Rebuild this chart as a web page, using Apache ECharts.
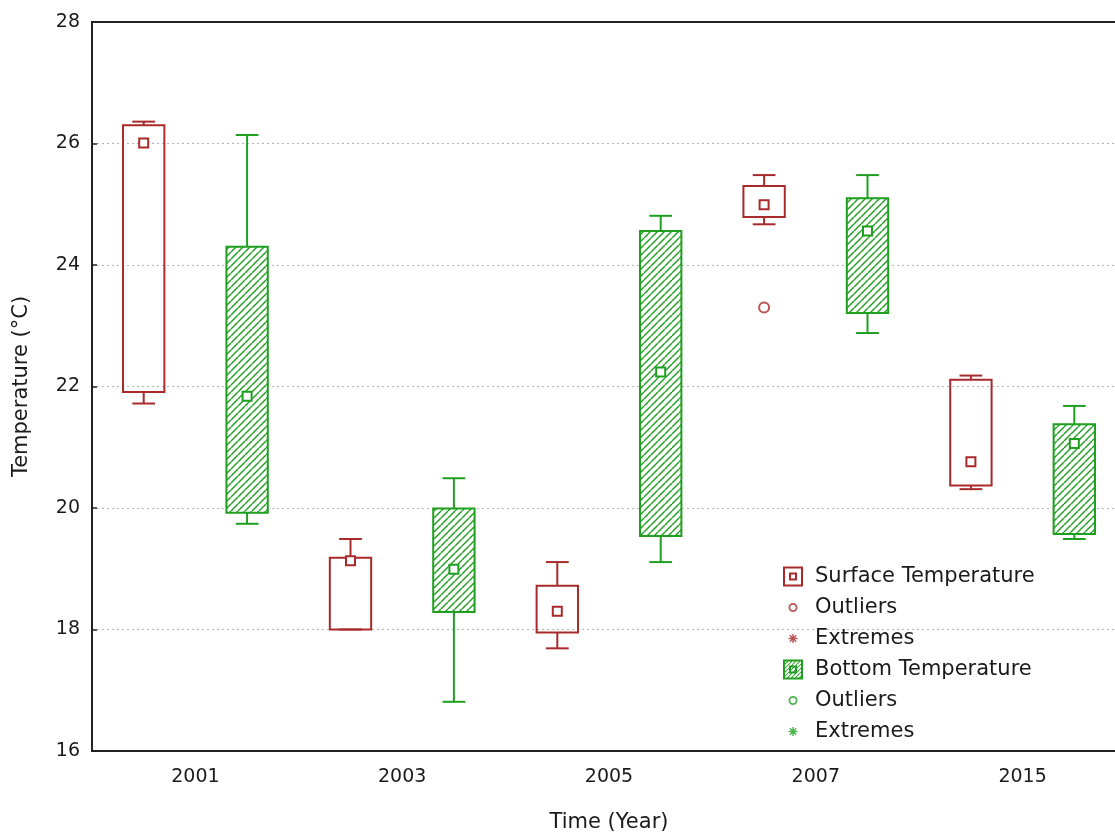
<!DOCTYPE html>
<html>
<head>
<meta charset="utf-8">
<script src="https://cdn.jsdelivr.net/npm/echarts@6/dist/echarts.min.js"></script>
<style>
  html, body { margin: 0; padding: 0; background: #fff; }
  #main { width: 1115px; height: 834px; }
</style>
</head>
<body>
<div id="main"></div>
<script>
// year labels on the visible axis
var years = ['2001', '2003', '2005', '2007', '2015'];
// 10 box slots: surface, bottom, surface, bottom ...
var slots = ['S2001', 'B2001', 'S2003', 'B2003', 'S2005', 'B2005', 'S2007', 'B2007', 'S2015', 'B2015'];
var yTicks = [16, 18, 20, 22, 24, 26, 28];

// [slot, min, Q1, median, Q3, max]
var surfaceStats = [
  [0, 21.72, 21.91, 26.01, 26.30, 26.36],
  [2, 18.00, 18.00, 19.13, 19.18, 19.49],
  [4, 17.69, 17.95, 18.30, 18.72, 19.11],
  [6, 24.67, 24.79, 24.99, 25.30, 25.48],
  [8, 20.31, 20.37, 20.76, 22.11, 22.18]
];
var bottomStats = [
  [1, 19.74, 19.92, 21.84, 24.30, 26.14],
  [3, 16.81, 18.29, 18.99, 19.99, 20.49],
  [5, 19.11, 19.54, 22.24, 24.56, 24.81],
  [7, 22.88, 23.21, 24.56, 25.10, 25.48],
  [9, 19.49, 19.57, 21.06, 21.38, 21.68]
];
var surfaceOutliers = [[6, 23.30]];
var bottomOutliers = [];

var RED = '#a82a2a';
var GREEN = '#1f9f1f';
var FONT = 'DejaVu Sans';

// diagonal hatch used inside the bottom-temperature boxes
function makeHatch(color) {
  var s = 7;
  var c = document.createElement('canvas');
  c.width = s; c.height = s;
  var ctx = c.getContext('2d');
  ctx.fillStyle = '#fff';
  ctx.fillRect(0, 0, s, s);
  ctx.strokeStyle = color;
  ctx.lineWidth = 1.4;
  for (var k = -1; k <= 1; k++) {
    ctx.beginPath();
    ctx.moveTo(k * s, s);
    ctx.lineTo(k * s + s, 0);
    ctx.stroke();
  }
  return c;
}
var hatch = { image: makeHatch(GREEN), repeat: 'repeat' };

function renderBox(color, fill) {
  return function (params, api) {
    var x = api.value(0);
    var pMin = api.coord([x, api.value(1)]);
    var pQ1 = api.coord([x, api.value(2)]);
    var pMed = api.coord([x, api.value(3)]);
    var pQ3 = api.coord([x, api.value(4)]);
    var pMax = api.coord([x, api.value(5)]);
    var band = api.size([1, 0])[0];
    var bw = band * 0.4;
    var cw = band * 0.22;
    var cx = pMed[0];
    var line = { stroke: color, lineWidth: 2 };
    return {
      type: 'group',
      children: [
        { type: 'line', shape: { x1: cx, y1: pMax[1], x2: cx, y2: pQ3[1] }, style: line },
        { type: 'line', shape: { x1: cx - cw / 2, y1: pMax[1], x2: cx + cw / 2, y2: pMax[1] }, style: line },
        { type: 'line', shape: { x1: cx, y1: pMin[1], x2: cx, y2: pQ1[1] }, style: line },
        { type: 'line', shape: { x1: cx - cw / 2, y1: pMin[1], x2: cx + cw / 2, y2: pMin[1] }, style: line },
        {
          type: 'rect',
          shape: { x: cx - bw / 2, y: pQ3[1], width: bw, height: pQ1[1] - pQ3[1] },
          style: { fill: fill, stroke: color, lineWidth: 2 }
        },
        {
          type: 'rect',
          shape: { x: cx - 4.5, y: pMed[1] - 4.5, width: 9, height: 9 },
          style: { fill: '#fff', stroke: color, lineWidth: 2 }
        }
      ]
    };
  };
}

// legend icons (20x20 boxes, tiny specks at the corners keep the size)
var corners = ' M0,0L0.01,0L0,0.01Z M20,20L19.99,20L20,19.99Z';
function boxIcon(hatched) {
  var d = 'M0,0H20V20H0Z M2,2V18H18V2Z M6,6H14V14H6Z M8,8V12H12V8Z';
  if (hatched) {
    for (var c = 6; c <= 34; c += 4) {
      var a = c, b = c + 1.3;
      if (b <= 20) {
        d += ' M2,' + (a - 2) + 'L' + (a - 2) + ',2L' + (b - 2) + ',2L2,' + (b - 2) + 'Z';
      } else if (a >= 20) {
        d += ' M' + (a - 18) + ',18L18,' + (a - 18) + 'L18,' + (b - 18) + 'L' + (b - 18) + ',18Z';
      }
    }
  }
  return 'path://' + d;
}
var circleIcon = 'path://M5.5,10A4.5,4.5 0 1,0 14.5,10A4.5,4.5 0 1,0 5.5,10Z M7.3,10A2.7,2.7 0 1,1 12.7,10A2.7,2.7 0 1,1 7.3,10Z' + corners;
var starIcon = 'path://M5.5,9.3H14.5V10.7H5.5Z M9.3,5.5H10.7V14.5H9.3Z M6.3,7.3L7.3,6.3L13.7,12.7L12.7,13.7Z M12.7,6.3L13.7,7.3L7.3,13.7L6.3,12.7Z' + corners;

var chart = echarts.init(document.getElementById('main'));

var option = {
  backgroundColor: '#fff',
  animation: false,
  textStyle: { fontFamily: FONT },
  grid: {
    left: 92,
    top: 22,
    right: -11,
    bottom: 83,
    show: true,
    borderColor: '#222',
    borderWidth: 2,
    outerBoundsMode: 'none'
  },
  legend: {
    orient: 'vertical',
    left: 778,
    top: 561,
    itemWidth: 20,
    itemHeight: 20,
    itemGap: 10,
    textStyle: { fontFamily: FONT, fontSize: 21, color: '#1a1a1a', padding: [0, 0, 0, 7] },
    data: [
      { name: 'Surface Temperature', icon: boxIcon(false), itemStyle: { color: RED, borderWidth: 0 } },
      { name: 'Outliers', icon: circleIcon, itemStyle: { color: RED, borderWidth: 0 } },
      { name: 'Extremes', icon: starIcon, itemStyle: { color: RED, borderWidth: 0 } },
      { name: 'Bottom Temperature', icon: boxIcon(true), itemStyle: { color: GREEN, borderWidth: 0 } },
      { name: 'Outliers ', icon: circleIcon, itemStyle: { color: GREEN, borderWidth: 0 } },
      { name: 'Extremes ', icon: starIcon, itemStyle: { color: GREEN, borderWidth: 0 } }
    ]
  },
  xAxis: [
    {
      type: 'category',
      data: years,
      boundaryGap: true,
      name: 'Time (Year)',
      nameLocation: 'middle',
      nameGap: 61,
      nameTextStyle: { fontFamily: FONT, fontSize: 21, color: '#1a1a1a' },
      axisLine: { lineStyle: { color: '#222', width: 2 } },
      axisTick: { inside: true, alignWithLabel: true, length: 6, lineStyle: { color: '#222', width: 1.5 } },
      axisLabel: { fontFamily: FONT, fontSize: 19, color: '#1a1a1a', margin: 17 },
      splitLine: { show: false }
    },
    {
      type: 'category',
      data: slots,
      show: false
    }
  ],
  yAxis: {
    type: 'value',
    min: yTicks[0],
    max: yTicks[yTicks.length - 1],
    interval: 2,
    name: 'Temperature (°C)',
    nameLocation: 'middle',
    nameGap: 60,
    nameTextStyle: { fontFamily: FONT, fontSize: 21, color: '#1a1a1a' },
    axisLine: { show: true, lineStyle: { color: '#222', width: 2 } },
    axisTick: { show: true, inside: true, length: 5, lineStyle: { color: '#222', width: 1.5 } },
    axisLabel: { fontFamily: FONT, fontSize: 19, color: '#1a1a1a', margin: 12 },
    splitLine: {
      show: true,
      showMinLine: false,
      showMaxLine: false,
      lineStyle: { color: '#b4b4b4', type: [2, 3], width: 1 }
    }
  },
  series: [
    {
      name: 'Surface Temperature',
      type: 'custom',
      xAxisIndex: 1,
      itemStyle: { color: RED },
      encode: { x: 0, y: [1, 2, 3, 4, 5] },
      renderItem: renderBox(RED, 'none'),
      data: surfaceStats
    },
    {
      name: 'Bottom Temperature',
      type: 'custom',
      xAxisIndex: 1,
      itemStyle: { color: GREEN },
      encode: { x: 0, y: [1, 2, 3, 4, 5] },
      renderItem: renderBox(GREEN, hatch),
      data: bottomStats
    },
    {
      name: 'Outliers',
      type: 'scatter',
      xAxisIndex: 1,
      symbol: 'circle',
      symbolSize: 10,
      itemStyle: { color: '#fff', borderColor: RED, borderWidth: 2 },
      data: surfaceOutliers
    },
    {
      name: 'Extremes',
      type: 'scatter',
      xAxisIndex: 1,
      itemStyle: { color: RED },
      data: []
    },
    {
      name: 'Outliers ',
      type: 'scatter',
      xAxisIndex: 1,
      symbol: 'circle',
      symbolSize: 10,
      itemStyle: { color: '#fff', borderColor: GREEN, borderWidth: 2 },
      data: bottomOutliers
    },
    {
      name: 'Extremes ',
      type: 'scatter',
      xAxisIndex: 1,
      itemStyle: { color: GREEN },
      data: []
    }
  ]
};
chart.setOption(option);
</script>
</body>
</html>
